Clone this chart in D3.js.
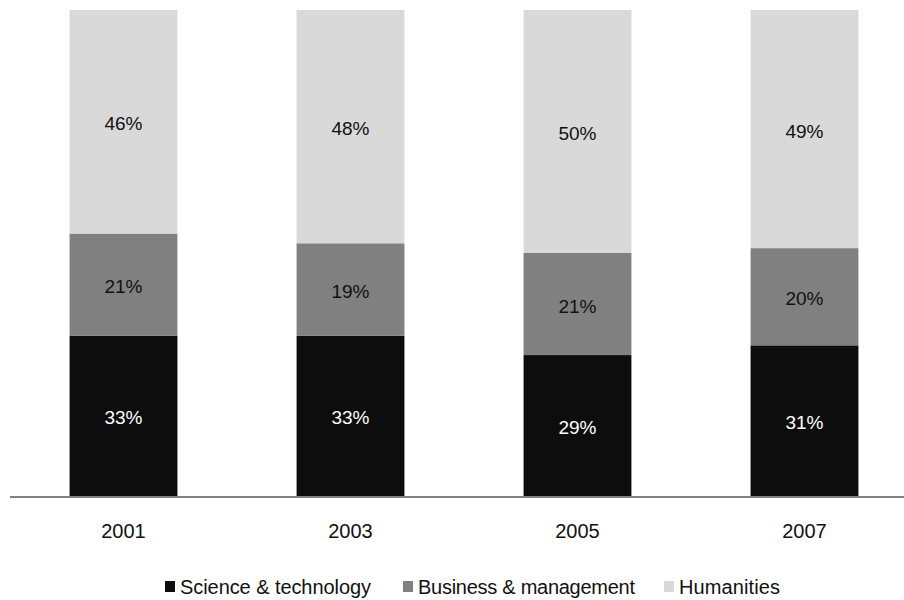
<!DOCTYPE html>
<html>
<head>
<meta charset="utf-8">
<script src="https://cdn.jsdelivr.net/npm/d3@7"></script>
<style>
  html, body { margin: 0; padding: 0; background: #fff; }
  svg { display: block; font-family: "Liberation Sans", Arial, sans-serif; }
</style>
</head>
<body>
<svg id="chart" width="904" height="600"></svg>
<script>
const years = ["2001", "2003", "2005", "2007"];
const seriesNames = ["Science & technology", "Business & management", "Humanities"];
const science = [33, 33, 29, 31];
const business = [21, 19, 21, 20];
const humanities = [46, 48, 50, 49];
const seriesColors = ["#0d0d0d", "#808080", "#d9d9d9"];
const labelColors = ["#ffffff", "#111111", "#111111"];

const rows = years.map((yr, i) => ({
  year: yr,
  "Science & technology": science[i],
  "Business & management": business[i],
  "Humanities": humanities[i]
}));

const svg = d3.select("#chart");
const plotTop = 10, baseline = 496;

const x = d3.scaleBand().domain(years).range([10, 918]).paddingInner(0.525).paddingOuter(0.2625);
const y = d3.scaleLinear().domain([0, 100]).range([baseline, plotTop]);

const stacked = d3.stack().keys(seriesNames)(rows);

const groups = svg.append("g").selectAll("g").data(stacked).join("g")
  .attr("fill", (d, i) => seriesColors[i]);

groups.selectAll("rect").data(d => d).join("rect")
  .attr("x", d => x(d.data.year))
  .attr("width", x.bandwidth())
  .attr("y", d => y(d[1]))
  .attr("height", d => y(d[0]) - y(d[1]));

// value labels in each segment
stacked.forEach((s, si) => {
  svg.append("g").selectAll("text").data(s).join("text")
    .attr("x", d => x(d.data.year) + x.bandwidth() / 2)
    .attr("y", d => (y(d[0]) + y(d[1])) / 2 + 8.5)
    .attr("text-anchor", "middle")
    .attr("font-size", 19)
    .attr("fill", labelColors[si])
    .text(d => (d[1] - d[0]) + "%");
});

// category axis
const axis = svg.append("g").attr("transform", `translate(0,${baseline})`)
  .call(d3.axisBottom(x).tickSize(0).tickPadding(42));
axis.select(".domain").remove();
axis.selectAll("text").attr("font-size", 20).attr("fill", "#111")
  .attr("font-family", "'Liberation Sans', Arial, sans-serif").attr("dy", "0");
svg.append("line")
  .attr("x1", 10).attr("x2", 904)
  .attr("y1", baseline + 1).attr("y2", baseline + 1)
  .attr("stroke", "#808080").attr("stroke-width", 2);

// legend
const legendX = [165, 403, 664];
const legendW = [191, 217, 101];
const legend = svg.append("g").selectAll("g").data(seriesNames).join("g")
  .attr("transform", (d, i) => `translate(${legendX[i]},594)`);
legend.append("rect").attr("x", 0).attr("y", -13).attr("width", 10).attr("height", 11)
  .attr("fill", (d, i) => seriesColors[i]);
legend.append("text").attr("x", 15).attr("y", 0)
  .attr("font-size", 20).attr("fill", "#111")
  .attr("textLength", (d, i) => legendW[i])
  .attr("lengthAdjust", "spacing")
  .text(d => d);
</script>
</body>
</html>
